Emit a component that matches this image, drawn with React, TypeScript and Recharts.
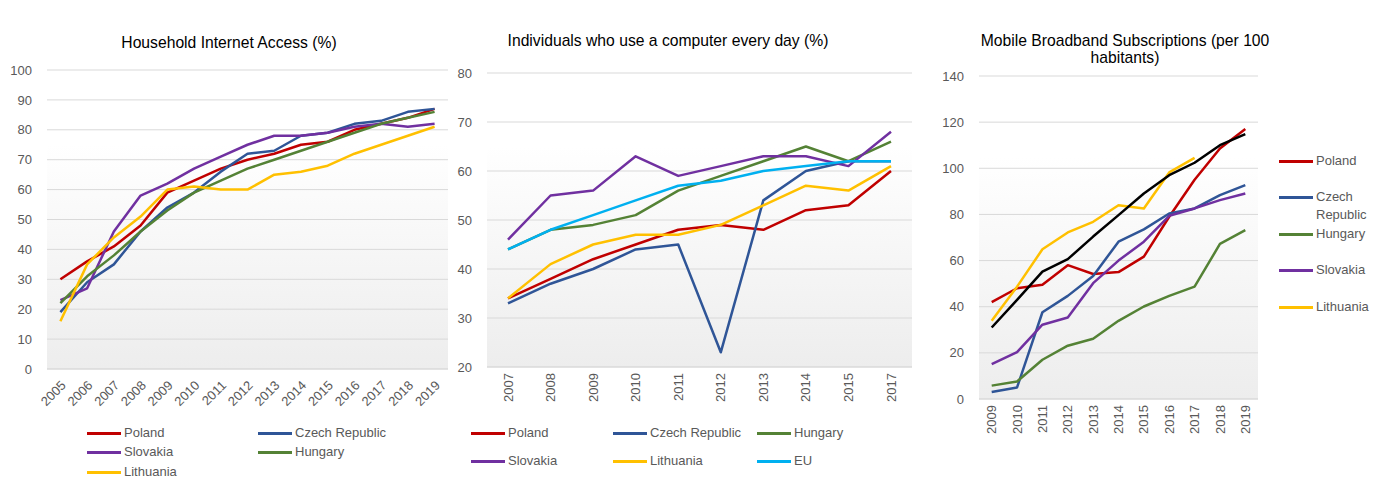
import React from 'react';
import { LineChart, Line, XAxis, YAxis, CartesianGrid } from 'recharts';

// ---------- Chart 1: Household Internet Access (%) ----------
const years1 = ['2005', '2006', '2007', '2008', '2009', '2010', '2011', '2012', '2013', '2014', '2015', '2016', '2017', '2018', '2019'];
const h_poland = [30, 36, 41, 48, 59, 63, 67, 70, 72, 75, 76, 80, 82, 84, 87];
const h_czech = [19, 29, 35, 46, 54, 59, 66, 72, 73, 78, 79, 82, 83, 86, 87];
const h_slovakia = [23, 27, 46, 58, 62, 67, 71, 75, 78, 78, 79, 81, 82, 81, 82];
const h_hungary = [22, 31, 38, 46, 53, 59, 63, 67, 70, 73, 76, 79, 82, 84, 86];
const h_lithuania = [16, 35, 44, 51, 60, 61, 60, 60, 65, 66, 68, 72, 75, 78, 81];
const ticks1 = [0, 10, 20, 30, 40, 50, 60, 70, 80, 90, 100];

// ---------- Chart 2: Individuals who use a computer every day (%) ----------
const years2 = ['2007', '2008', '2009', '2010', '2011', '2012', '2013', '2014', '2015', '2017'];
const c_poland = [34, 38, 42, 45, 48, 49, 48, 52, 53, 60];
const c_czech = [33, 37, 40, 44, 45, 23, 54, 60, 62, 62];
const c_hungary = [44, 48, 49, 51, 56, 59, 62, 65, 62, 66];
const c_slovakia = [46, 55, 56, 63, 59, 61, 63, 63, 61, 68];
const c_lithuania = [34, 41, 45, 47, 47, 49, 53, 57, 56, 61];
const c_eu = [44, 48, 51, 54, 57, 58, 60, 61, 62, 62];
const ticks2 = [20, 30, 40, 50, 60, 70, 80];

// ---------- Chart 3: Mobile Broadband Subscriptions (per 100 habitants) ----------
const years3 = ['2009', '2010', '2011', '2012', '2013', '2014', '2015', '2016', '2017', '2018', '2019'];
const m_poland = [42, 48, 49.5, 58, 54.2, 55, 61.7, 79, 95, 108.6, 117];
const m_czech = [3, 5, 37.6, 44.7, 53.3, 68.2, 73.5, 80.4, 82.6, 88.4, 92.7];
const m_hungary = [5.8, 7.6, 17, 23.1, 26.1, 33.9, 40.1, 44.7, 48.7, 67.2, 73.2];
const m_slovakia = [15.1, 20.3, 32.2, 35.3, 50.2, 60, 68.2, 79.4, 82.6, 86.2, 89.1];
const m_lithuania = [33.9, 48.7, 64.9, 72.2, 76.8, 84, 82.6, 98.2, 104.5, null, null];
const m_eu = [31, 43, 55.2, 60.6, 70.4, 79.7, 89.1, 97, 102.4, 110, 114.8];
const ticks3 = [0, 20, 40, 60, 80, 100, 120, 140];

const COLORS: Record<string, string> = {
  Poland: '#c00000',
  'Czech Republic': '#2f5597',
  Hungary: '#548235',
  Slovakia: '#7030a0',
  Lithuania: '#ffc000',
  EU: '#00b0f0',
  EU2: '#000000',
};

const data1 = years1.map((y, i) => ({
  year: y,
  Poland: h_poland[i],
  'Czech Republic': h_czech[i],
  Slovakia: h_slovakia[i],
  Hungary: h_hungary[i],
  Lithuania: h_lithuania[i],
}));
const data2 = years2.map((y, i) => ({
  year: y,
  Poland: c_poland[i],
  'Czech Republic': c_czech[i],
  Hungary: c_hungary[i],
  Slovakia: c_slovakia[i],
  Lithuania: c_lithuania[i],
  EU: c_eu[i],
}));
const data3 = years3.map((y, i) => ({
  year: y,
  Poland: m_poland[i],
  'Czech Republic': m_czech[i],
  Hungary: m_hungary[i],
  Slovakia: m_slovakia[i],
  Lithuania: m_lithuania[i],
  EU2: m_eu[i],
}));

const FONT = '"Liberation Sans", Arial, sans-serif';
const TICK_COLOR = '#595959';
const GRID = '#d9d9d9';

const yTick = { fill: TICK_COLOR, fontSize: 13, fontFamily: FONT };

const DiagTick = (props: any) => {
  const { x, y, payload } = props;
  return (
    <g transform={`translate(${x + 3},${y + 12})`}>
      <text textAnchor="end" dy="0.35em" transform="rotate(-45)" fill={TICK_COLOR} fontSize={13} fontFamily={FONT}>
        {payload.value}
      </text>
    </g>
  );
};

const VertTick = (props: any) => {
  const { x, y, payload } = props;
  return (
    <g transform={`translate(${x},${y + 4})`}>
      <text textAnchor="end" dy="0.35em" transform="rotate(-90)" fill={TICK_COLOR} fontSize={13} fontFamily={FONT}>
        {payload.value}
      </text>
    </g>
  );
};

const Grad = ({ id }: { id: string }) => (
  <defs>
    <linearGradient id={id} x1="0" y1="0" x2="0" y2="1">
      <stop offset="0%" stopColor="#ffffff" />
      <stop offset="25%" stopColor="#ffffff" />
      <stop offset="100%" stopColor="#ededed" />
    </linearGradient>
  </defs>
);

const LegendItem = ({ name, color, left, top, width }: { name: string; color: string; left: number; top: number; width?: number }) => (
  <div style={{ position: 'absolute', left, top: top - 9, display: 'flex', alignItems: 'flex-start' }}>
    <div style={{ width: 34, height: 3, background: color, marginTop: 8, flex: 'none' }} />
    <div style={{ marginLeft: 3, lineHeight: '18px', fontSize: 13, fontFamily: FONT, color: TICK_COLOR, width: width, whiteSpace: width ? 'normal' : 'nowrap' }}>
      {name}
    </div>
  </div>
);

const Title = ({ lines, cx, top }: { lines: string[]; cx: number; top: number }) => (
  <div
    style={{
      position: 'absolute',
      left: cx - 200,
      width: 400,
      top,
      textAlign: 'center',
      fontFamily: FONT,
      fontSize: 15.7,
      lineHeight: '17px',
      color: '#000',
    }}
  >
    {lines.map((l) => (
      <div key={l}>{l}</div>
    ))}
  </div>
);

const lineProps = { type: 'linear' as const, strokeWidth: 2.5, dot: false, isAnimationActive: false, strokeLinejoin: 'round' as const, activeDot: false };

export default function App() {
  return (
    <div style={{ position: 'absolute', left: 0, top: 0, width: 1389, height: 501, background: '#fff', overflow: 'hidden' }}>
      {/* Chart 1 */}
      <Title lines={['Household Internet Access (%)']} cx={229} top={34} />
      <div style={{ position: 'absolute', left: 0, top: 0 }}>
        <LineChart width={460} height={420} data={data1} margin={{ top: 70, right: 12, bottom: 0, left: 0 }}>
          <Grad id="g1" />
          <CartesianGrid vertical={false} stroke={GRID} fill="url(#g1)" />
          <XAxis dataKey="year" height={51} padding={{ left: 13.4, right: 13.4 }} tickLine={false} axisLine={{ stroke: GRID }} tickSize={0} tick={<DiagTick />} interval={0} />
          <YAxis width={47} domain={[0, 100]} ticks={ticks1} axisLine={false} tickLine={false} tickMargin={9} tick={yTick} />
          {['Poland', 'Czech Republic', 'Slovakia', 'Hungary', 'Lithuania'].map((k) => (
            <Line key={k} dataKey={k} stroke={COLORS[k]} {...lineProps} />
          ))}
        </LineChart>
      </div>
      <LegendItem name="Poland" color={COLORS.Poland} left={87} top={433} />
      <LegendItem name="Czech Republic" color={COLORS['Czech Republic']} left={258} top={433} />
      <LegendItem name="Slovakia" color={COLORS.Slovakia} left={87} top={452} />
      <LegendItem name="Hungary" color={COLORS.Hungary} left={258} top={452} />
      <LegendItem name="Lithuania" color={COLORS.Lithuania} left={87} top={472} />

      {/* Chart 2 */}
      <Title lines={['Individuals who use a computer every day (%)']} cx={668} top={32} />
      <div style={{ position: 'absolute', left: 440, top: 0 }}>
        <LineChart width={480} height={420} data={data2} margin={{ top: 73, right: 8, bottom: 0, left: 0 }}>
          <Grad id="g2" />
          <CartesianGrid vertical={false} stroke={GRID} fill="url(#g2)" />
          <XAxis dataKey="year" height={53} padding={{ left: 21, right: 21 }} tickLine={false} axisLine={{ stroke: GRID }} tickSize={0} tick={<VertTick />} interval={0} />
          <YAxis width={47} domain={[20, 80]} ticks={ticks2} axisLine={false} tickLine={false} tickMargin={9} tick={yTick} />
          {['Poland', 'Czech Republic', 'Hungary', 'Slovakia', 'Lithuania', 'EU'].map((k) => (
            <Line key={k} dataKey={k} stroke={COLORS[k]} {...lineProps} />
          ))}
        </LineChart>
      </div>
      <LegendItem name="Poland" color={COLORS.Poland} left={471} top={433} />
      <LegendItem name="Czech Republic" color={COLORS['Czech Republic']} left={613} top={433} />
      <LegendItem name="Hungary" color={COLORS.Hungary} left={757} top={433} />
      <LegendItem name="Slovakia" color={COLORS.Slovakia} left={471} top={461} />
      <LegendItem name="Lithuania" color={COLORS.Lithuania} left={613} top={461} />
      <LegendItem name="EU" color={COLORS.EU} left={757} top={461} />

      {/* Chart 3 */}
      <Title lines={['Mobile Broadband Subscriptions (per 100', 'habitants)']} cx={1125} top={32} />
      <div style={{ position: 'absolute', left: 932, top: 0 }}>
        <LineChart width={457} height={450} data={data3} margin={{ top: 76, right: 131, bottom: 0, left: 0 }}>
          <Grad id="g3" />
          <CartesianGrid vertical={false} stroke={GRID} fill="url(#g3)" />
          <XAxis dataKey="year" height={51} padding={{ left: 12.7, right: 12.7 }} tickLine={false} axisLine={{ stroke: GRID }} tickSize={0} tick={<VertTick />} interval={0} />
          <YAxis width={47} domain={[0, 140]} ticks={ticks3} axisLine={false} tickLine={false} tickMargin={9} tick={yTick} />
          {['Poland', 'Czech Republic', 'Hungary', 'Slovakia', 'Lithuania', 'EU2'].map((k) => (
            <Line key={k} dataKey={k} stroke={COLORS[k]} {...lineProps} />
          ))}
        </LineChart>
      </div>
      <LegendItem name="Poland" color={COLORS.Poland} left={1279} top={161} width={70} />
      <LegendItem name="Czech Republic" color={COLORS['Czech Republic']} left={1279} top={197} width={70} />
      <LegendItem name="Hungary" color={COLORS.Hungary} left={1279} top={234} width={70} />
      <LegendItem name="Slovakia" color={COLORS.Slovakia} left={1279} top={270} width={70} />
      <LegendItem name="Lithuania" color={COLORS.Lithuania} left={1279} top={307} width={70} />
    </div>
  );
}
